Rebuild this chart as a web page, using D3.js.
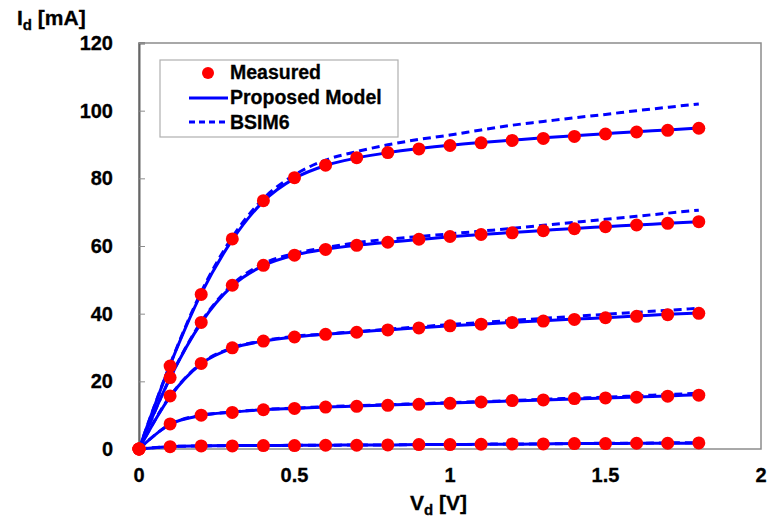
<!DOCTYPE html>
<html><head><meta charset="utf-8">
<script src="https://cdn.jsdelivr.net/npm/d3@7"></script>
<style>body{margin:0;background:#fff}svg{display:block;font-family:"Liberation Sans",Arial,sans-serif}</style>
</head><body><svg id="c" width="767" height="520"></svg>
<script>
const vd = [0,0.1,0.2,0.3,0.4,0.5,0.6,0.7,0.8,0.9,1.0,1.1,1.2,1.3,1.4,1.5,1.6,1.7,1.8];
const measured1 = [0,24.5,45.7,62.1,73.4,80.2,83.9,86.1,87.6,88.7,89.7,90.5,91.2,91.8,92.4,93.1,93.7,94.2,94.8];
const measured2 = [0,21.1,37.4,48.4,54.3,57.3,59.0,60.2,61.1,62.0,62.8,63.4,63.9,64.5,65.1,65.7,66.2,66.7,67.2];
const measured3 = [0,15.7,25.3,29.9,31.9,33.1,33.9,34.5,35.2,35.8,36.4,36.9,37.4,37.8,38.3,38.8,39.2,39.7,40.1];
const measured4 = [0,7.4,10.0,10.8,11.6,12.0,12.4,12.6,12.9,13.2,13.5,13.9,14.3,14.5,14.9,15.1,15.3,15.6,15.9];
const measured5 = [0,0.7,0.9,0.9,1.0,1.0,1.1,1.1,1.2,1.3,1.3,1.4,1.5,1.5,1.6,1.6,1.7,1.7,1.8];
const model1 = [0,24.8,45.9,61.8,73.2,80.0,83.8,86.0,87.6,88.8,89.8,90.6,91.3,92.0,92.6,93.2,93.8,94.3,94.9];
const model2 = [0,21.0,37.3,48.2,54.2,57.3,59.0,60.2,61.1,61.9,62.7,63.4,64.0,64.6,65.2,65.7,66.2,66.7,67.2];
const model3 = [0,15.5,25.2,29.8,31.9,33.1,33.9,34.6,35.2,35.8,36.4,36.9,37.4,37.9,38.4,38.8,39.3,39.8,40.2];
const model4 = [0,7.3,9.9,10.9,11.6,12.0,12.4,12.7,13.0,13.3,13.6,13.9,14.2,14.5,14.8,15.1,15.4,15.7,16.0];
const model5 = [0,0.7,0.9,1.0,1.0,1.1,1.1,1.2,1.2,1.3,1.3,1.4,1.4,1.5,1.6,1.6,1.7,1.7,1.8];
const bsim1 = [0,25.0,46.4,62.6,74.0,81.0,85.4,87.9,89.9,91.5,92.8,94.3,95.7,96.8,97.9,98.9,100.0,101.0,102.0];
const bsim2 = [0,21.0,37.6,48.6,54.8,57.8,59.5,61.0,62.0,62.8,63.6,64.4,65.2,66.1,67.0,67.9,68.8,69.7,70.6];
const bsim3 = [0,15.6,25.3,29.9,32.0,33.3,34.0,34.7,35.4,36.1,36.8,37.4,38.0,38.6,39.2,39.8,40.4,41.0,41.6];
const bsim4 = [0,7.3,10.0,10.9,11.7,12.1,12.5,12.8,13.1,13.4,13.7,14.0,14.3,14.7,15.0,15.3,15.7,16.1,16.5];
const bsim5 = [0,0.7,0.9,1.0,1.0,1.1,1.1,1.2,1.2,1.3,1.3,1.4,1.5,1.5,1.6,1.7,1.7,1.8,1.9];
const xTicks = [0,0.5,1,1.5,2];
const yTicks = [0,20,40,60,80,100,120];
const legendLabels = ["Measured","Proposed Model","BSIM6"];

const svg = d3.select("#c");
const x = d3.scaleLinear().domain([0,2]).range([139,761]);
const y = d3.scaleLinear().domain([0,120]).range([449,43]);

svg.append("rect").attr("x",139).attr("y",43).attr("width",622).attr("height",406)
  .attr("fill","none").attr("stroke","#8c8c8c").attr("stroke-width",1.5);

const yAx = svg.append("g").attr("transform","translate(139,0)")
  .call(d3.axisRight(y).tickValues(yTicks).tickSize(6).tickFormat(""));
yAx.select(".domain").attr("stroke","#666").attr("stroke-width",2);
yAx.selectAll(".tick line").attr("stroke","#8c8c8c").attr("stroke-width",1);
svg.append("g").selectAll("text").data(yTicks).join("text")
  .attr("x",113).attr("y",d=>y(d)+7).attr("text-anchor","end")
  .attr("font-size",20).attr("font-weight","bold").attr("stroke","#000").attr("stroke-width",0.3).text(d=>d);

svg.append("g").selectAll("text").data(xTicks).join("text")
  .attr("x",d=>x(d)).attr("y",482).attr("text-anchor","middle")
  .attr("font-size",20).attr("font-weight","bold").attr("stroke","#000").attr("stroke-width",0.3).text(d=>d);

const xt = svg.append("text").attr("x",410).attr("y",510).attr("font-size",21).attr("font-weight","bold").attr("stroke","#000").attr("stroke-width",0.3);
xt.append("tspan").text("V");
xt.append("tspan").attr("dy",5).attr("font-size",15).text("d");
xt.append("tspan").attr("dy",-5).text(" [V]");
const yt = svg.append("text").attr("x",17).attr("y",25).attr("font-size",21).attr("font-weight","bold").attr("stroke","#000").attr("stroke-width",0.3);
yt.append("tspan").text("I");
yt.append("tspan").attr("dy",5).attr("font-size",15).text("d");
yt.append("tspan").attr("dy",-5).text(" [mA]");

const line = d3.line().x((d,i)=>x(vd[i])).y(d=>y(d)).curve(d3.curveMonotoneX);
const models = [model1,model2,model3,model4,model5];
const bsims = [bsim1,bsim2,bsim3,bsim4,bsim5];
const meas = [measured1,measured2,measured3,measured4,measured5];

svg.append("g").selectAll("path").data(bsims).join("path")
  .attr("d",line).attr("fill","none").attr("stroke","#0000ff").attr("stroke-width",3)
  .attr("stroke-dasharray","8,5");
svg.append("g").selectAll("path").data(models).join("path")
  .attr("d",line).attr("fill","none").attr("stroke","#0000ff").attr("stroke-width",3);

meas.forEach(s=>{
  svg.append("g").selectAll("circle").data(s).join("circle")
    .attr("cx",(d,i)=>x(vd[i])).attr("cy",d=>y(d)).attr("r",6.5).attr("fill","#ff0000");
});

const lg = svg.append("g");
lg.append("rect").attr("x",160).attr("y",60).attr("width",238).attr("height",77)
  .attr("fill","#fff").attr("stroke","#b0b0b0").attr("stroke-width",1.2);
lg.append("circle").attr("cx",208).attr("cy",73).attr("r",6).attr("fill","#ff0000");
lg.append("line").attr("x1",189).attr("x2",228).attr("y1",98).attr("y2",98)
  .attr("stroke","#0000ff").attr("stroke-width",3);
lg.append("line").attr("x1",189).attr("x2",228).attr("y1",122).attr("y2",122)
  .attr("stroke","#0000ff").attr("stroke-width",3).attr("stroke-dasharray","6,4");
lg.selectAll("text").data(legendLabels).join("text")
  .attr("x",230).attr("y",(d,i)=>79+i*25).attr("font-size",19.5).attr("font-weight","bold")
  .attr("stroke","#000").attr("stroke-width",0.3).text(d=>d);
</script></body></html>
